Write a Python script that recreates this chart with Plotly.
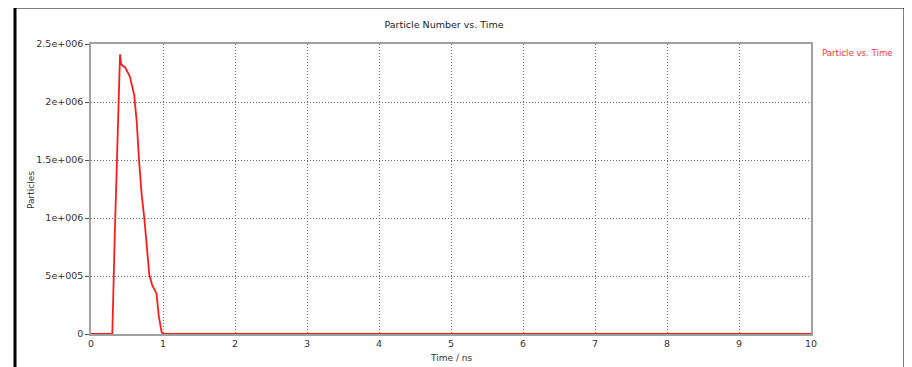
import plotly.graph_objects as go

# Data
time_ns = [0.0, 0.296, 0.33, 0.37, 0.403, 0.415, 0.426, 0.472, 0.54, 0.60, 0.635, 0.667,
           0.704, 0.74, 0.773, 0.81, 0.85, 0.91, 0.94, 0.98, 1.0, 1.05, 2.0, 4.0, 6.0, 8.0, 10.0]
particles = [0, 0, 0.85e6, 1.75e6, 2.41e6, 2.34e6, 2.32e6, 2.30e6, 2.22e6, 2.06e6, 1.83e6, 1.5e6,
             1.2e6, 1.0e6, 0.77e6, 0.51e6, 0.42e6, 0.35e6, 0.16e6, 0.02e6, 0, 0, 0, 0, 0, 0, 0]

y_tickvals = [0, 5e5, 1e6, 1.5e6, 2e6, 2.5e6]
y_ticktext = ["0", "5e+005", "1e+006", "1.5e+006", "2e+006", "2.5e+006"]
x_tickvals = [0, 1, 2, 3, 4, 5, 6, 7, 8, 9, 10]

OFF = 8  # page body margin
W, H = 912 - OFF, 367 - OFF
L, R, T, B = 91 - OFF, 101, 44 - OFF, 33
pw, ph = W - L - R, H - T - B

def px(x):  # screen pixel -> paper x
    return (x - OFF - L) / pw

def py(y):  # screen pixel -> paper y
    return (OFF + T + ph - y) / ph

font = "DejaVu Sans"

fig = go.Figure()
fig.add_trace(go.Scatter(
    x=time_ns, y=particles, mode="lines",
    line=dict(color="#ff1a1a", width=1.8),
    name="Particle vs. Time", showlegend=False,
))

fig.update_layout(
    width=W, height=H,
    margin=dict(l=L, r=R, t=T, b=B, autoexpand=False),
    paper_bgcolor="white", plot_bgcolor="white",
    font=dict(family=font, size=9, color="#333333"),
    title=dict(text="Particle Number vs. Time", x=px(444), xref="paper", xanchor="center",
               y=1 - (25 - OFF) / H, yanchor="middle", font=dict(size=9.5, color="#222222")),
    xaxis=dict(range=[0, 10], tickvals=x_tickvals, showgrid=True, gridcolor="#6e6e6e",
               griddash="1px,2px", gridwidth=1, showline=True, linecolor="#a0a0a0", linewidth=1.5,
               mirror=True, ticks="", zeroline=False, automargin=False,
               tickfont=dict(size=9.5, color="#333333")),
    yaxis=dict(range=[0, 2.5e6], tickvals=y_tickvals, ticktext=y_ticktext, showgrid=True,
               gridcolor="#6e6e6e", griddash="1px,2px", gridwidth=1, showline=True,
               linecolor="#a0a0a0", linewidth=1.5, mirror=True, ticks="outside", ticklen=4,
               tickcolor="#555555", zeroline=False, automargin=False,
               tickfont=dict(size=9.5, color="#333333")),
    annotations=[
        dict(text="Particle vs. Time", xref="paper", yref="paper",
             x=px(820), y=py(53), xanchor="left", yanchor="middle",
             showarrow=False, font=dict(size=8.6, color="#ff3333")),
        dict(text="Particles", xref="paper", yref="paper", textangle=-90,
             x=px(31), y=py(190), xanchor="center", yanchor="middle",
             showarrow=False, font=dict(size=9, color="#333333")),
        dict(text="Time / ns", xref="paper", yref="paper",
             x=px(451), y=py(358), xanchor="center", yanchor="middle",
             showarrow=False, font=dict(size=9, color="#333333")),
    ],
    shapes=[dict(type="rect", xref="paper", yref="paper",
                 x0=px(15), x1=px(905), y0=py(375), y1=py(7),
                 line=dict(color="black", width=3), layer="above")],
)

fig.write_html("out.html")
